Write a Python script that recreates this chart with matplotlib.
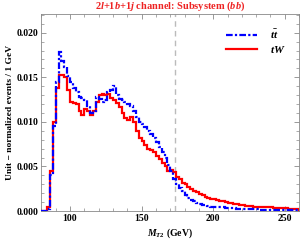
import numpy as np
import matplotlib
matplotlib.use('Agg')
import matplotlib.pyplot as plt
from matplotlib.ticker import MultipleLocator

# 2 GeV bins from 80 to 260, values are per 1 GeV (unit normalized)
bin_edges = np.arange(80, 262, 2)

tW = [0.0, 0.0, 0.0005, 0.0045, 0.0100, 0.0138, 0.0153, 0.0153, 0.0150, 0.0136,
      0.0122, 0.0121, 0.0120, 0.0112, 0.0108, 0.0115, 0.0112, 0.0108, 0.0112, 0.0122,
      0.0130, 0.0131, 0.0130, 0.0131, 0.0127, 0.0124, 0.0121, 0.0117, 0.0110, 0.0104,
      0.0102, 0.0106, 0.0100, 0.0090, 0.0082, 0.0078, 0.0074, 0.0070, 0.0068, 0.0066,
      0.0062, 0.0058, 0.0054, 0.0050, 0.0045, 0.0046, 0.0044, 0.0038, 0.0036, 0.0032,
      0.0030, 0.0027, 0.0025, 0.0023, 0.0021, 0.0019, 0.0018, 0.0016, 0.0015, 0.0014,
      0.0013, 0.0012, 0.0011, 0.0011, 0.0010, 0.0009, 0.0009, 0.0008, 0.0008, 0.0007,
      0.0007, 0.0006, 0.0006, 0.0006, 0.0005, 0.0005, 0.0005, 0.0004, 0.0004, 0.0004,
      0.0004, 0.0003, 0.0003, 0.0003, 0.0003, 0.0003, 0.0002, 0.0002, 0.0002, 0.0002]

ttbar = [0.0, 0.0, 0.0002, 0.0040, 0.0095, 0.0145, 0.0178, 0.0168, 0.0162, 0.0152,
         0.0145, 0.0138, 0.0133, 0.0128, 0.0127, 0.0125, 0.0118, 0.0110, 0.0112, 0.0128,
         0.0126, 0.0122, 0.0125, 0.0134, 0.0136, 0.0140, 0.0130, 0.0126, 0.0124, 0.0122,
         0.0120, 0.0118, 0.0112, 0.0106, 0.0100, 0.0098, 0.0094, 0.0090, 0.0086, 0.0082,
         0.0077, 0.0072, 0.0066, 0.0060, 0.0052, 0.0045, 0.0036, 0.0030, 0.0026, 0.0022,
         0.0018, 0.0015, 0.0012, 0.0011, 0.0009, 0.0008, 0.0007, 0.0007, 0.0006, 0.0005,
         0.0005, 0.0005, 0.0004, 0.0004, 0.0003, 0.0003, 0.0003, 0.0003, 0.0002, 0.0002,
         0.0002, 0.0002, 0.0002, 0.0002, 0.0002, 0.0002, 0.0001, 0.0001, 0.0001, 0.0001,
         0.0001, 0.0001, 0.0001, 0.0001, 0.0001, 0.0001, 0.0001, 0.0001, 0.0001, 0.0001]

m_top = 173.0

plt.rcParams['font.family'] = ['Liberation Serif', 'DejaVu Serif']
plt.rcParams['mathtext.fontset'] = 'custom'
plt.rcParams['mathtext.rm'] = 'Liberation Serif:bold'
plt.rcParams['mathtext.it'] = 'Liberation Serif:italic:bold'
plt.rcParams['mathtext.bf'] = 'Liberation Serif:bold'

fig = plt.figure(figsize=(3.0, 2.42), dpi=100)
ax = fig.add_axes([0.138, 0.128, 0.859, 0.814])

ax.axvline(m_top, color='#bbbbbb', lw=1.0, ls=(0, (4, 3)), zorder=1)
ax.stairs(ttbar, bin_edges, color='blue', lw=1.6, ls=(0, (3, 1, 1, 1)),
          label=r'$t\bar{t}$', zorder=3)
ax.stairs(tW, bin_edges, color='red', lw=1.6, label=r'$tW$', zorder=2)

ax.set_xlim(80, 260)
ax.set_ylim(0, 0.0221)
ax.xaxis.set_major_locator(MultipleLocator(50))
ax.xaxis.set_minor_locator(MultipleLocator(10))
ax.yaxis.set_major_locator(MultipleLocator(0.005))
ax.yaxis.set_minor_locator(MultipleLocator(0.001))
ax.yaxis.set_major_formatter(matplotlib.ticker.FormatStrFormatter('%.3f'))
ax.tick_params(which='both', direction='in', top=True, right=True,
               color='#888888', labelsize=7, pad=2)
ax.tick_params(which='major', length=3.5, width=0.6)
ax.tick_params(which='minor', length=2, width=0.5)
for lab in ax.get_xticklabels() + ax.get_yticklabels():
    lab.set_fontweight('bold')
for sp in ax.spines.values():
    sp.set_color('#888888')
    sp.set_linewidth(0.6)

ax.set_xlabel(r'$M_{T2}$ (GeV)', fontsize=7, fontweight='bold', labelpad=3)
ax.set_ylabel('Unit \u2212 normalized events / 1 GeV', fontsize=6.8,
              fontweight='bold', labelpad=2)
ax.set_title(r'$2l$+1$b$+1$j$ channel: Subsystem ($bb$)', fontsize=7.5,
             color='#ee2222', fontweight='bold', pad=4)

leg = ax.legend(loc='upper right', frameon=False, fontsize=8, handlelength=2.8,
                handletextpad=1.2, labelspacing=0.3, borderaxespad=0.8)

fig.savefig('out.png', dpi=100)
